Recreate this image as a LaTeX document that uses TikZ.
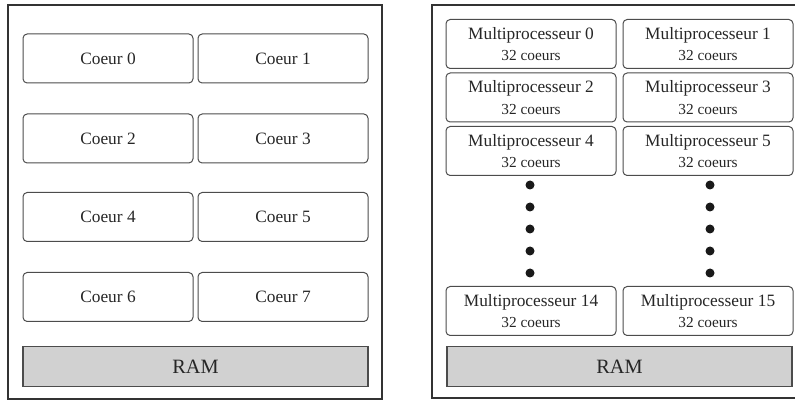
\documentclass[tikz,border=0pt]{standalone}
\usepackage{fontspec}
\setmainfont{Liberation Serif}
\usepackage{tikz}

\begin{document}
\begin{tikzpicture}
	[x=0.6pt,y=-0.6pt,every node/.style={text=black!85},
	coeur/.style={draw=black!70,line width=0.6pt,rounded corners=2.5pt,minimum width=102pt,minimum height=29.4pt,inner sep=0pt,font=\fontsize{10.4}{12}\selectfont},
	multi/.style={coeur,align=center,font=\fontsize{10.4}{13}\selectfont},
	ram/.style={draw=black!70,line width=0.7pt,fill=black!18,minimum width=207pt,minimum height=23.6pt,inner sep=0pt,font=\fontsize{12.2}{14}\selectfont},
	pt/.style={circle,fill=black!90,inner sep=0pt,minimum size=5.4pt}]
	\useasboundingbox (0,0) rectangle (795,401);
	% CPU
	\draw[black!80,line width=0.9pt] (8,5) rectangle (382,399);
	\node[coeur] (c0) at (108,58.5)  {Coeur 0};
	\node[coeur] (c1) at (283,58.5)  {Coeur 1};
	\node[coeur] (c2) at (108,138.5) {Coeur 2};
	\node[coeur] (c3) at (283,138.5) {Coeur 3};
	\node[coeur] (c4) at (108,217)   {Coeur 4};
	\node[coeur] (c5) at (283,217)   {Coeur 5};
	\node[coeur] (c6) at (108,297)   {Coeur 6};
	\node[coeur] (c7) at (283,297)   {Coeur 7};
	\node[ram] (ramc) at (195.5,366.5) {RAM};
	
	% GPU
	\draw[black!80,line width=0.9pt] (432,5) rectangle (805,398);
	\node[multi] (m0) at (531,44)   {Multiprocesseur 0\\{\fontsize{9.2}{11}\selectfont 32 coeurs}};
	\node[multi] (m1) at (708,44)   {Multiprocesseur 1\\{\fontsize{9.2}{11}\selectfont 32 coeurs}};
	\node[multi] (m2) at (531,97.5) {Multiprocesseur 2\\{\fontsize{9.2}{11}\selectfont 32 coeurs}};
	\node[multi] (m3) at (708,97.5) {Multiprocesseur 3\\{\fontsize{9.2}{11}\selectfont 32 coeurs}};
	\node[multi] (m4) at (531,151)  {Multiprocesseur 4\\{\fontsize{9.2}{11}\selectfont 32 coeurs}};
	\node[multi] (m5) at (708,151)  {Multiprocesseur 5\\{\fontsize{9.2}{11}\selectfont 32 coeurs}};
	\node[multi] (m14) at (531,311) {Multiprocesseur 14\\{\fontsize{9.2}{11}\selectfont 32 coeurs}};
	\node[multi] (m15) at (708,311) {Multiprocesseur 15\\{\fontsize{9.2}{11}\selectfont 32 coeurs}};
	
	\foreach \i/\y in {1/185,2/207,3/229,4/251,5/273}
	{
		\node[pt] (pa\i) at (530,\y) {};
		\node[pt] (pb\i) at (710,\y) {};
	}
	\node[ram] (ramg) at (619.5,366.5) {RAM};
\end{tikzpicture}
\end{document}
